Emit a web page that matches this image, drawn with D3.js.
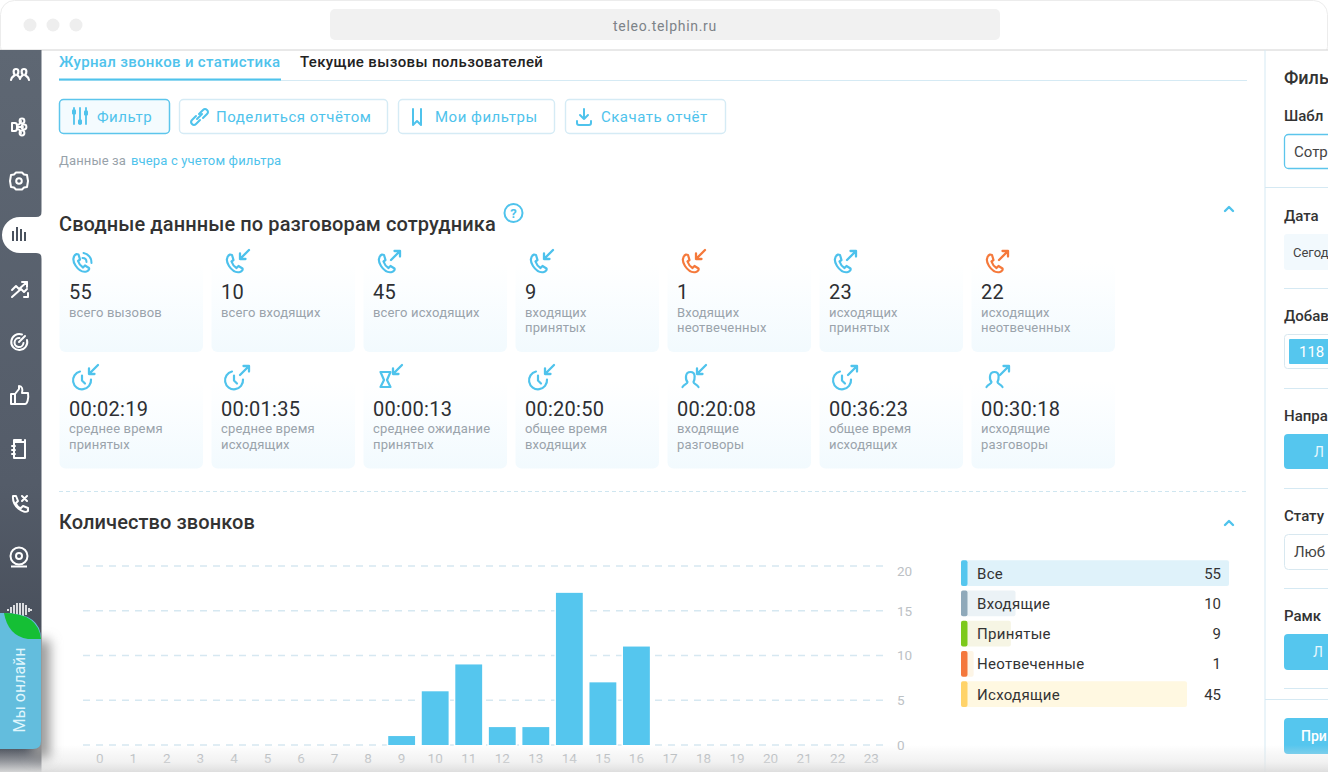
<!DOCTYPE html>
<html lang="ru"><head><meta charset="utf-8">
<script src="https://cdn.jsdelivr.net/npm/d3@7"></script>
<style>html,body{margin:0;padding:0;background:#fff;overflow:hidden}svg{display:block}text{font-family:Roboto,sans-serif}</style>
</head><body><svg id="c" width="1328" height="772"></svg>
<script>
// ---- data ----
const hours = d3.range(0,24).map(String);
const callCounts = [0,0,0,0,0,0,0,0,0,1,6,9,2,2,17,7,11,0,0,0,0,0,0,0];
const yTicks = [0,5,10,15,20];
const legendNames = ["Все","Входящие","Принятые","Неотвеченные","Исходящие"];
const legendValues = [55,10,9,1,45];
const cardRow1Values = ["55","10","45","9","1","23","22"];
const cardRow1Labels = [["всего вызовов"],["всего входящих"],["всего исходящих"],["входящих","принятых"],["Входящих","неотвеченных"],["исходящих","принятых"],["исходящих","неотвеченных"]];
const cardRow2Values = ["00:02:19","00:01:35","00:00:13","00:20:50","00:20:08","00:36:23","00:30:18"];
const cardRow2Labels = [["среднее время","принятых"],["среднее время","исходящих"],["среднее ожидание","принятых"],["общее время","входящих"],["входящие","разговоры"],["общее время","исходящих"],["исходящие","разговоры"]];
const row1Icons = [["phone","ring","#4cc1ec"],["phone","in","#4cc1ec"],["phone","out","#4cc1ec"],["phone","in","#4cc1ec"],["phone","in","#f5793b"],["phone","out","#4cc1ec"],["phone","out","#f5793b"]];
const row2Icons = [["clock","in"],["clock","out"],["glass","in"],["clock","in"],["person","in"],["clock","out"],["person","out"]];
const buttonLabels = ["Фильтр","Поделиться отчётом","Мои фильтры","Скачать отчёт"];
// ---- style ----
const BLUE="#4fc3ec", BAR="#55c6ee";
const legendBar=["#55c6ee","#8fa9ba","#7dc91c","#f4783c","#ffd369"];
const legendBg=["#dff2fa","#ebf2f6","#f6f5e4","#fdf5e6","#fff8e1"];

const svg=d3.select("#c");
const defs=svg.append("defs");
function lg(id,stops,v=true){const g=defs.append("linearGradient").attr("id",id).attr("x1",0).attr("y1",0).attr("x2",v?0:1).attr("y2",v?1:0);
  stops.forEach(s=>g.append("stop").attr("offset",s[0]).attr("stop-color",s[1]).attr("stop-opacity",s[2]==null?1:s[2]));}
lg("side",[[0,"#5e6773"],[0.6,"#545c69"],[1,"#3f4550"]]);
lg("card",[[0,"#ffffff"],[0.25,"#fcfeff"],[1,"#f2fafe"]]);
lg("fade",[[0,"#e0e0e0",0],[0.6,"#e6e6e6",0.5],[1,"#dcdcdc",0.95]]);
defs.append("filter").attr("id","blur").attr("x","-100%").attr("width","300%").attr("y","-30%").attr("height","160%").append("feGaussianBlur").attr("stdDeviation",6);

function T(x,y,s,o={}){return svg.append("text").attr("x",x).attr("y",y).attr("dominant-baseline","central")
  .attr("font-size",o.fs||15).attr("font-weight",o.w||400).attr("fill",o.c||"#333").attr("text-anchor",o.a||"start")
  .attr("letter-spacing",o.ls||null).text(s);}
function line(x1,y1,x2,y2,c,w=1,d=null){svg.append("line").attr("x1",x1).attr("y1",y1).attr("x2",x2).attr("y2",y2).attr("stroke",c).attr("stroke-width",w).attr("stroke-dasharray",d);}
function R(x,y,w,h,r,f,s,sw=1){return svg.append("rect").attr("x",x).attr("y",y).attr("width",w).attr("height",h).attr("rx",r).attr("fill",f).attr("stroke",s||"none").attr("stroke-width",sw);}
function P(tx,ty,d,c,sw=2,f="none"){return svg.append("path").attr("transform",`translate(${tx},${ty})`).attr("d",d).attr("fill",f).attr("stroke",c).attr("stroke-width",sw).attr("stroke-linecap","round").attr("stroke-linejoin","round");}

// ---- browser chrome ----
R(0.5,0.5,1327,60,14,"#fff","#ececec");
R(330,9,670,31,5,"#f1f1f1");
[30,53,76].forEach(x=>svg.append("circle").attr("cx",x).attr("cy",25).attr("r",6.5).attr("fill","#eeeeee"));
T(665,26,"teleo.telphin.ru",{fs:14,c:"#7d8388",a:"middle",ls:0.7});
svg.append("rect").attr("x",0).attr("y",50).attr("width",1328).attr("height",722).attr("fill","#fff");
line(0,50,1328,50,"#d2d2d2",1);

// ---- sidebar ----
svg.append("rect").attr("x",0).attr("y",50).attr("width",41.5).attr("height",722).attr("fill","url(#side)");
svg.append("path").attr("d","M42 211Q42 217 36 217L20 217A18 18 0 0 0 20 253L36 253Q42 253 42 259Z").attr("fill","#fff");
const W="#fff";
P(10,68,"M1 12C1 9 4 8 5 7C3 5 3 1 6 1C9 1 9 5 7 7C8 8 10 9 10 11M10 11C10 9 12 8 13 7C11 5 11 1 14 1C17 1 17 5 15 7C16 8 19 9 19 12",W,2.2);
P(11,117,"M1 6H4Q6 6 6 9V11Q6 14 4 14H1Zm5 4H12M6 8Q9 8 10 4M6 12Q9 12 10 16",W);
[[14,121],[16,127],[14,133]].forEach(p=>svg.append("circle").attr("cx",p[0]+8).attr("cy",p[1]).attr("r",2.4).attr("fill","none").attr("stroke",W).attr("stroke-width",2));
P(19,181,"M-3 -8.5H3L5 -6.5L8 -6L9 0L8 6L5 6.5L3 8.5H-3L-5 6.5L-8 6L-9 0L-8 -6L-5 -6.5Z",W);
svg.append("circle").attr("cx",19).attr("cy",181).attr("r",2.8).attr("fill","none").attr("stroke",W).attr("stroke-width",2);
[[12,231,241],[16,227,241],[20,229,241],[24,232,241]].forEach(b=>line(b[0]+1,b[1],b[0]+1,b[2],"#4a525e",2));
P(11,281,"M1 9L5 5L8 8L16 1M11 1H16V6M1 16L10 8L13 11L16 8M13 16H17V12",W);
P(10,333,"M9 9L15 3M12 1.5A8 8 0 1 0 17 7M9.5 5A4.5 4.5 0 1 0 13.5 10",W);
P(10,385,"M1 9H5V19H1ZM5 9L9 4V1C12 1 13 4 12 8H18C19 14 17 19 15 19H5",W);
P(11,439,"M3 3H14V19H3ZM3 3V1H10M1 7H4M1 11H4M1 15H4M14 3V1",W);
P(10,494,"M3 2L6 2L8 7L6 9C7 12 9 14 11 14L13 12L18 14V17C14 20 2 13 3 2ZM12 2L17 7M17 2L12 7",W);
svg.append("circle").attr("cx",19).attr("cy",556).attr("r",8.5).attr("fill","none").attr("stroke",W).attr("stroke-width",2);
svg.append("circle").attr("cx",19).attr("cy",556).attr("r",3).attr("fill","none").attr("stroke",W).attr("stroke-width",2);
line(11,566.5,27,566.5,W,2);
[[8,1],[11,3],[14,5],[17,7],[20,7],[23,7],[26,5],[29,2],[31,1]].forEach(b=>line(b[0],610-b[1],b[0],610+b[1],"#fff",1.6));

// ---- tabs + buttons ----
T(59,62,"Журнал звонков и статистика",{c:BLUE,w:500,fs:15,ls:.33});
T(300,62,"Текущие вызовы пользователей",{c:"#222",w:500,fs:15,ls:.36});
line(59,80.5,1247,80.5,"#d5eaf4",1);
line(59,79.5,281,79.5,BLUE,2);
const btn=[[59,111],[179,209],[398,157],[565,161]], btx=[97,216,435,601];
btn.forEach((b,i)=>{R(b[0]+.5,99.5,b[1]-1,34,4,i==0?"#f4fbfe":"#fff",i==0?"#5cc5ec":"#d5ebf5",i==0?1.5:1.4);
  T(btx[i],117,buttonLabels[i],{c:BLUE,fs:15,w:400,ls:.5});});
P(72,107,"M2 1V17M8 1V17M14 1V17",BLUE,1.8);[[74,112],[80,122],[86,113]].forEach(p=>R(p[0]-2,p[1]-2.5,4,5,1,BLUE));
P(191,108,"M8 6L12 2Q14 0 16 2Q18 4 16 6L12 10M9 12L5 16Q3 18 1 16Q-1 14 1 12L5 8M6 11L11 6",BLUE,2);
P(412,109,"M1 0V16L5 12L9 16V0",BLUE,2);
P(577,108,"M7 1V11M3 7L7 11L11 7M0 13V15Q0 17 2 17H12Q14 17 14 15V13",BLUE,2);
T(59,160,"Данные за",{fs:13,c:"#98a2aa",ls:.15});
T(131,160,"вчера с учетом фильтра",{fs:13,c:BLUE,ls:.15});

// ---- summary ----
T(59,224,"Сводные даннные по разговорам сотрудника",{fs:20,w:500,c:"#333",ls:.1});
svg.append("circle").attr("cx",513.5).attr("cy",213).attr("r",9).attr("fill","none").attr("stroke",BLUE).attr("stroke-width",2);
T(513.5,213.5,"?",{fs:13,w:700,c:BLUE,a:"middle"});
function chev(y){P(1229,y,"M-4 2L0 -2L4 2",BLUE,2.4);}
chev(209);chev(523);

const cardX=d3.scaleLinear().domain([0,1]).range([59.5,211.5]);
const phoneD="M4 1C0 3 0 8 3 12.5C6 17 10 19.5 14 18.5C16 18 17 16 16.5 15L12.5 12.5L10.5 14.5C8 13 6.5 11 5.5 8L7.5 6.5L6 1.5Z";
function arrow(x,y,dir,c){ if(dir=="in") P(x,y,"M10 0L1 9M1 3.5V9H6.5",c,2.3); else P(x,y,"M0 10L9 1M3.5 1H9V6.5",c,2.3);}
function card(i,y0,h,val,lab,ny,ly){const x=cardX(i);
  R(x,y0,143.5,h,6,"url(#card)");
  T(x+9.5,ny,val,{fs:20,w:400,c:"#2d2f33",ls:.25});
  lab.forEach((s,k)=>T(x+9.5,ly+k*15.7,s,{fs:13,c:"#9aa3ab",ls:.15}));}
cardRow1Values.forEach((v,i)=>{card(i,262,90,v,cardRow1Labels[i],292,312);
  const x=cardX(i),ic=row1Icons[i];
  if(ic[1]=="ring"){P(x+13,253,phoneD,ic[2],2.2);P(x+21,253,"M3 0Q11 2 11 10M2 5Q6 5 6 9",ic[2],2);}
  else{P(x+14.5,253.5,phoneD,ic[2],2.2);arrow(x+27.5,250,ic[1],ic[2]);}
});
cardRow2Values.forEach((v,i)=>{card(i,380,88.5,v,cardRow2Labels[i],408.5,428.5);
  const x=cardX(i),ic=row2Icons[i];
  if(ic[0]=="clock"){P(x+13.5,370.5,"M7 1A9 9 0 1 0 18 9M9 5V10L12 13",BLUE,2.2);}
  if(ic[0]=="glass"){P(x+17,372,"M0 0H10L6.5 8L10 15H0L3.5 8Z",BLUE,2.2);}
  if(ic[0]=="person"){P(x+14,369,"M1 18C3 15 6 15 6 13C4 11 3 3 9 3C15 3 13 11 12 13C12 15 15 15 17 18",BLUE,2.2);}
  arrow(x+28.5,365,ic[1],BLUE);
});
line(59,491.5,1247,491.5,"#cfe6f0",1,"4 3");
T(59,522,"Количество звонков",{fs:20,w:500,c:"#333",ls:.1});

// ---- chart ----
const x=d3.scaleBand().domain(hours).range([83,888]).paddingInner(0.2).paddingOuter(0.1);
const y=d3.scaleLinear().domain([0,20]).range([745,566]);
const plot=svg.append("g");
plot.selectAll("line.g").data(yTicks).join("line").attr("class","g")
  .attr("x1",83).attr("x2",885).attr("y1",d=>y(d)).attr("y2",d=>y(d))
  .attr("stroke","#d6e8f1").attr("stroke-width",1.3).attr("stroke-dasharray","7 6");
plot.selectAll("rect").data(callCounts.map((v,i)=>({h:hours[i],v})).filter(d=>d.v>0)).join("rect")
  .attr("x",d=>x(d.h)).attr("width",x.bandwidth()).attr("y",d=>y(d.v)).attr("height",d=>y(0)-y(d.v))
  .attr("fill",BAR).attr("stroke","#fff").attr("stroke-width",3).attr("paint-order","stroke");
const xa=svg.append("g").attr("transform","translate(0,745)").call(d3.axisBottom(x).tickSize(0).tickPadding(8));
xa.select(".domain").remove();
xa.selectAll("text").attr("font-size",13.5).attr("fill","#aeb3b7").attr("font-family","Roboto,sans-serif");
const ya=svg.append("g").attr("transform","translate(888,0)").call(d3.axisRight(y).tickValues(yTicks).tickSize(0).tickPadding(9));
ya.select(".domain").remove();
ya.selectAll("text").attr("font-size",13.5).attr("fill","#bcc1c5").attr("font-family","Roboto,sans-serif")
  .attr("dy",d=>d==20?"0.7em":"0.32em");

// ---- legend ----
const lw=d3.scaleLinear().domain([0,10,45,55]).range([8,54.5,226,268]);
const ly=d3.scaleBand().domain(legendNames).range([560.3,707]).paddingInner(0.15).paddingOuter(0);
const lg2=svg.selectAll("g.leg").data(legendNames).join("g").attr("class","leg").attr("transform",d=>`translate(961,${ly(d)})`);
lg2.append("rect").attr("width",(d,i)=>lw(legendValues[i])).attr("height",ly.bandwidth()).attr("rx",2).attr("fill",(d,i)=>legendBg[i]);
lg2.append("rect").attr("width",6.5).attr("height",ly.bandwidth()).attr("rx",2).attr("fill",(d,i)=>legendBar[i]);
lg2.append("text").attr("x",16).attr("y",ly.bandwidth()/2+.5).attr("dominant-baseline","central").attr("font-size",15).attr("letter-spacing",.3).attr("fill","#333").text(d=>d);
lg2.append("text").attr("x",260).attr("y",ly.bandwidth()/2+.5).attr("dominant-baseline","central").attr("text-anchor","end").attr("font-size",15).attr("fill","#333").text((d,i)=>legendValues[i]);

// ---- right panel (cropped by the screenshot, as in the reference) ----
line(1265,50,1265,772,"#d5e9f3",1);
T(1284,77,"Филь",{fs:18,w:500,c:"#333"});
const panelLabels=[[116,"Шабл"],[216,"Дата"],[316,"Добав"],[416,"Напра"],[516,"Стату"],[616,"Рамк"]];
panelLabels.forEach(p=>T(1284,p[0],p[1],{fs:15,w:500,c:"#333"}));
line(1265,187.5,1328,187.5,"#d5e9f3",1);
[288.5,388.5,488.5,588.5,688.5].forEach(v=>line(1284,v,1328,v,"#d5e9f3",1));
line(1265,699.5,1328,699.5,"#d5e9f3",1);
R(1284.5,134.5,60,34,4,"#fff","#5cc5ec",1.3);T(1294,151.5,"Сотр",{fs:15,c:"#444"});
R(1284,234,60,36,3,"#f2f9fd");T(1293,252,"Сегод",{fs:13,c:"#444"});
R(1284.5,334.5,60,34,3,"#fff","#d8e8f0",1);R(1289,339,60,25,1,BAR);T(1299,352,"118",{fs:15,c:"#fff"});
R(1284,434,60,35,4,BAR);T(1314,452,"Л",{fs:14,c:"#e8f8fe"});
R(1284.5,534.5,60,35,4,"#fff","#d8e8f0",1);T(1294,552,"Люб",{fs:15,c:"#444"});
R(1284,634,60,36,4,BAR);T(1313,652,"Л",{fs:14,c:"#e8f8fe"});
R(1284,718,60,36,4,BAR);T(1301,736,"При",{fs:14,w:500,c:"#fff"});

// ---- online tab + bottom fade ----
svg.append("rect").attr("x",0).attr("y",745).attr("width",1328).attr("height",27).attr("fill","url(#fade)");
svg.append("rect").attr("x",32).attr("y",640).attr("width",18).attr("height",118).attr("fill","#9a9a9a").attr("filter","url(#blur)");
svg.append("path").attr("d","M0 613H4Q41 613 41 639V741Q41 749 33 749H0Z").attr("fill","#63bddd");
svg.append("path").attr("d","M4 613Q38 613 41 639H28Q8 636 4 613Z").attr("fill","#15bf35");
svg.append("text").attr("transform","translate(25,690) rotate(-90)").attr("text-anchor","middle").attr("font-family","Liberation Sans,sans-serif").attr("font-size",16).attr("fill","#dff5fc").text("Мы онлайн");
</script></body></html>
